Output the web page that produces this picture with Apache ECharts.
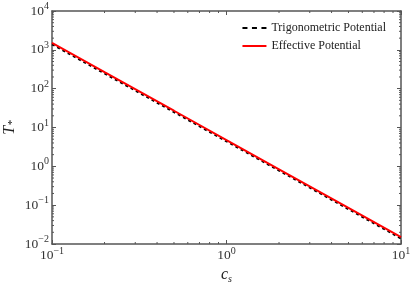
<!DOCTYPE html>
<html><head><meta charset="utf-8">
<script src="https://cdn.jsdelivr.net/npm/echarts@6/dist/echarts.min.js"></script>
<style>html,body{margin:0;padding:0;background:#fff}#c{width:415px;height:284px}</style>
</head><body><div id="c"></div>
<script>
var cs = [0.1, 0.2, 0.5, 1, 2, 5, 10];
var effective = [1500, 265, 27, 4.75, 0.84, 0.085, 0.015];
var trig = [1390, 246, 25, 4.4, 0.78, 0.079, 0.0139];
var xTicks = [0.1, 1, 10];
var yTicks = [0.01, 0.1, 1, 10, 100, 1000, 10000];
var xMinor = [0.2,0.3,0.4,0.5,0.6,0.7,0.8,0.9,2,3,4,5,6,7,8,9];
var yMinor = [];
[0.01,0.1,1,10,100,1000].forEach(function(d){for(var k=2;k<=9;k++)yMinor.push(d*k);});

var FONT = 'Liberation Serif';
var AX = '#555';
function pow(v){var e=Math.round(Math.log10(v));return '10{s|'+(e<0?'\u2212'+(-e):e)+'}';}
var rich = {s:{fontSize:10,verticalAlign:'top',padding:[0,0,9,0],fontFamily:FONT,color:'#333'}};

var chart = echarts.init(document.getElementById('c'));
function tickSeries(vals, axis){
  return {type:'custom', silent:true, data:vals.map(function(v){return [v];}),
    xAxisIndex:0,yAxisIndex:0, z:5, clip:false,
    renderItem:function(params, api){
      var v = api.value(0);
      var cs0 = params.coordSys; var x0=cs0.x, y0=cs0.y, w=cs0.width, h=cs0.height;
      var L=2, children=[];
      if(axis==='x'){
        var p = api.coord([v, 1])[0];
        children.push({type:'line',shape:{x1:p,y1:y0+h,x2:p,y2:y0+h-L},style:{stroke:AX,lineWidth:1}});
        children.push({type:'line',shape:{x1:p,y1:y0,x2:p,y2:y0+L},style:{stroke:AX,lineWidth:1}});
      } else {
        var q = api.coord([1, v])[1];
        children.push({type:'line',shape:{x1:x0,y1:q,x2:x0+L,y2:q},style:{stroke:AX,lineWidth:1}});
        children.push({type:'line',shape:{x1:x0+w,y1:q,x2:x0+w-L,y2:q},style:{stroke:AX,lineWidth:1}});
      }
      return {type:'group',children:children};
    }};
}
var axisCommon = {axisLine:{show:true,lineStyle:{color:AX,width:1.5}},axisTick:{show:true,inside:true,length:4,lineStyle:{color:AX}},splitLine:{show:false},minorTick:{show:false}};
chart.setOption({
  animation:false,
  grid:{left:52,right:14,top:11,bottom:40,containLabel:false,outerBoundsMode:'none'},
  legend:{top:17,right:24,orient:'vertical',itemGap:6,itemWidth:24,itemHeight:10,
    textStyle:{fontFamily:FONT,fontSize:12,color:'#222'},
    data:[{name:'Trigonometric Potential',icon:'path://M0,4h5v2h-5zM9.5,4h5v2h-5zM19,4h5v2h-5z',itemStyle:{color:'#000'}},{name:'Effective Potential',icon:'path://M0,4h24v2h-24z',itemStyle:{color:'#f00'}}]},
  xAxis:[Object.assign({type:'log',logBase:10,min:0.1,max:10,name:'c{sub|s}',nameLocation:'middle',nameGap:22,nameMoveOverlap:false,
    nameTextStyle:{fontFamily:FONT,fontStyle:'italic',fontSize:16,color:'#222',rich:{sub:{fontSize:10,fontStyle:'italic',verticalAlign:'bottom',padding:[8,0,0,0],fontFamily:FONT}}},
    axisLabel:{fontFamily:FONT,fontSize:13.5,color:'#333',margin:2,formatter:function(v){return pow(v);},rich:rich}},axisCommon),
    Object.assign({type:'log',logBase:10,min:0.1,max:10,position:'top',axisLabel:{show:false}},axisCommon)],
  yAxis:[Object.assign({type:'log',logBase:10,min:0.01,max:10000,name:'T{sub|*}',nameLocation:'middle',nameGap:34,nameRotate:90,nameMoveOverlap:false,
    nameTextStyle:{fontFamily:FONT,fontStyle:'italic',fontSize:16,color:'#222',rich:{sub:{fontSize:11,verticalAlign:'bottom',fontFamily:FONT}}},
    axisLabel:{fontFamily:FONT,fontSize:13.5,color:'#333',margin:3,formatter:function(v){return pow(v);},rich:rich}},axisCommon),
    Object.assign({type:'log',logBase:10,min:0.01,max:10000,position:'right',axisLabel:{show:false}},axisCommon)],
  series:[
    {name:'Effective Potential',type:'line',data:cs.map(function(c,i){return [c,effective[i]];}),showSymbol:false,lineStyle:{color:'#f00',width:2},itemStyle:{color:'#f00'},z:3},
    {name:'Trigonometric Potential',type:'line',data:cs.map(function(c,i){return [c,trig[i]];}),showSymbol:false,lineStyle:{color:'#000',width:2,type:[3,3]},itemStyle:{color:'#000'},z:2},
    tickSeries(xMinor,'x'), tickSeries(yMinor,'y')
  ]
});
</script></body></html>
